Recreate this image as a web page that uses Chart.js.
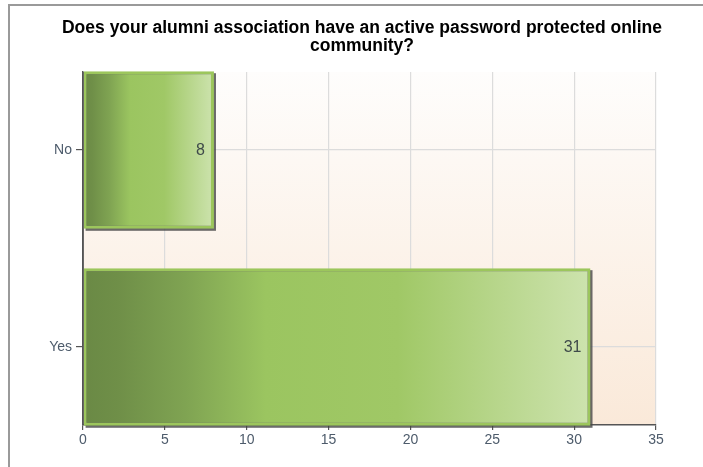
<!DOCTYPE html>
<html>
<head>
<meta charset="utf-8">
<script src="https://cdn.jsdelivr.net/npm/chart.js@4/dist/chart.umd.min.js"></script>
<style>
  html, body { margin: 0; padding: 0; background: #fff; }
  #wrap { position: relative; width: 703px; height: 467px; }
  #frame { position: absolute; left: 8px; top: 4px; right: 0; bottom: 0;
           border-top: 2px solid #9a9a9a; border-left: 2px solid #9a9a9a; pointer-events: none; }
  canvas { position: absolute; left: 0; top: 0; }
</style>
</head>
<body>
<div id="wrap">
  <canvas id="c" width="703" height="467"></canvas>
  <div id="frame"></div>
</div>
<script>
// Survey answers and response counts
const titleLines = ['Does your alumni association have an active password protected online', 'community?'];
const categories = ['No', 'Yes'];
const counts = [8, 31];
const xTicks = [0, 5, 10, 15, 20, 25, 30, 35];

const labelColor = '#4d5b6b';
const fontFamily = '"Liberation Sans", Arial, sans-serif';

// Horizontal green gradient for each bar, spanning from zero to the bar's value
function barGradient(ctx) {
  const chart = ctx.chart;
  const xs = chart.scales && chart.scales.x;
  if (!xs || !chart.chartArea || ctx.type !== 'data') return '#9dc65f';
  const v = counts[ctx.dataIndex];
  const x0 = xs.getPixelForValue(0);
  const x1 = xs.getPixelForValue(v);
  if (!isFinite(x0) || !isFinite(x1) || x1 === x0) return '#9dc65f';
  const g = chart.ctx.createLinearGradient(x0, 0, x1, 0);
  g.addColorStop(0, '#6a8945');
  g.addColorStop(0.07, '#6f8f48');
  g.addColorStop(0.2, '#7fa352');
  g.addColorStop(0.36, '#9bc560');
  g.addColorStop(0.62, '#a0c866');
  g.addColorStop(1, '#cde3ae');
  return g;
}

// Plot background, title, bar shadows, value labels and the left axis line over the bars
const decor = {
  id: 'decor',
  beforeDraw(chart) {
    const { ctx, chartArea: a } = chart;
    const g = ctx.createLinearGradient(0, a.top, 0, a.bottom);
    g.addColorStop(0, '#fefdfc');
    g.addColorStop(1, '#fae9d9');
    ctx.save();
    ctx.fillStyle = g;
    ctx.fillRect(a.left, a.top, a.right - a.left, a.bottom - a.top);
    ctx.fillStyle = '#000';
    ctx.font = 'bold 17.5px ' + fontFamily;
    ctx.textAlign = 'center';
    ctx.textBaseline = 'middle';
    titleLines.forEach((t, i) => ctx.fillText(t, 362, 28 + i * 18));
    ctx.restore();
  },
  beforeDatasetsDraw(chart) {
    const { ctx } = chart;
    const meta = chart.getDatasetMeta(0);
    ctx.save();
    ctx.fillStyle = 'rgba(70,70,70,0.8)';
    meta.data.forEach(el => {
      const p = el.getProps(['x', 'y', 'base', 'height'], true);
      ctx.fillRect(p.base + 2, p.y - p.height / 2 + 2, p.x - p.base, p.height);
    });
    ctx.restore();
  },
  afterDatasetsDraw(chart) {
    const { ctx, chartArea: a } = chart;
    const meta = chart.getDatasetMeta(0);
    ctx.save();
    ctx.strokeStyle = '#555';
    ctx.lineWidth = 1.5;
    ctx.beginPath();
    ctx.moveTo(a.left, a.top);
    ctx.lineTo(a.left, a.bottom);
    ctx.stroke();
    ctx.fillStyle = '#3f4a4a';
    ctx.font = '16px ' + fontFamily;
    ctx.textAlign = 'right';
    ctx.textBaseline = 'middle';
    meta.data.forEach((el, i) => {
      const p = el.getProps(['x', 'y'], true);
      ctx.fillText(String(counts[i]), p.x - 9, p.y + 1);
    });
    ctx.restore();
  }
};

new Chart(document.getElementById('c'), {
  type: 'bar',
  data: {
    datasets: [{
      data: categories.map((c, i) => ({ x: counts[i], y: i })),
      backgroundColor: barGradient,
      borderColor: '#9cc65c',
      borderWidth: 3,
      borderSkipped: false,
      barPercentage: 0.8,
      categoryPercentage: 1,
      clip: false
    }]
  },
  options: {
    indexAxis: 'y',
    responsive: false,
    animation: false,
    layout: { padding: { top: 72, right: 47, left: 0, bottom: 0 } },
    plugins: { legend: { display: false }, title: { display: false }, tooltip: { enabled: false } },
    scales: {
      x: {
        type: 'linear',
        min: 0, max: 35,
        afterBuildTicks: ax => { ax.ticks = xTicks.map(v => ({ value: v })); },
        afterFit: ax => { ax.height = 42; },
        border: { color: '#555', width: 1.5 },
        grid: { color: '#dcdcdc', lineWidth: 1.2, tickColor: '#555', tickLength: 5 },
        ticks: { color: labelColor, padding: 2, font: { family: fontFamily, size: 14 } }
      },
      y: {
        type: 'linear',
        reverse: true,
        offset: false,
        min: -0.396, max: 1.396,
        afterBuildTicks: ax => { ax.ticks = categories.map((c, i) => ({ value: i })); },
        afterFit: ax => { ax.width = 83; },
        border: { color: '#555', width: 1.5 },
        grid: { offset: false, color: '#dcdcdc', lineWidth: 1.2, tickColor: '#555', tickLength: 7 },
        ticks: {
          color: labelColor, padding: 4,
          font: { family: fontFamily, size: 14 },
          callback: v => categories[v]
        }
      }
    }
  },
  plugins: [decor]
});
</script>
</body>
</html>
